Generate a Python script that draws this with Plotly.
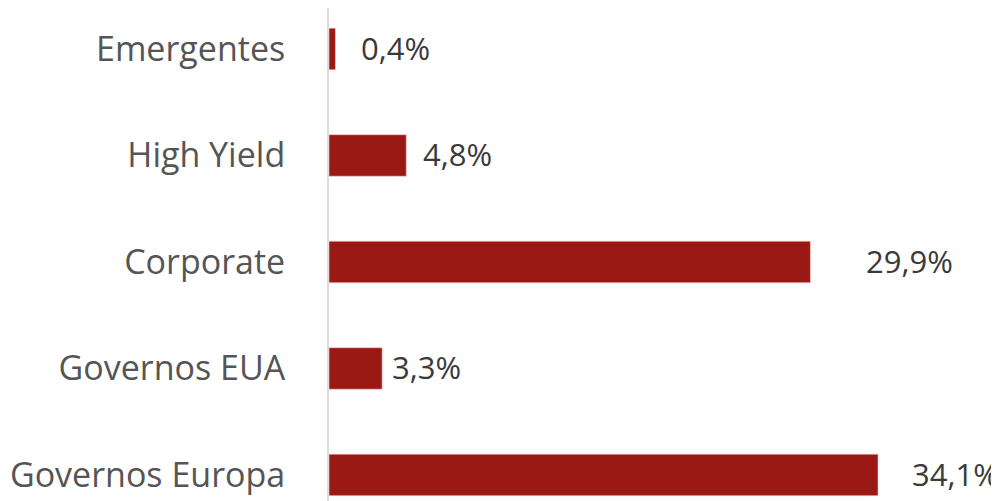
import plotly.graph_objects as go

categories = ["Governos Europa", "Governos EUA", "Corporate", "High Yield", "Emergentes"]
values = [34.1, 3.3, 29.9, 4.8, 0.4]
labels = ["34,1%", "3,3%", "29,9%", "4,8%", "0,4%"]
label_shift = [34, 10, 56, 17, 26]

BAR = "#9b1915"
FONT = "Open Sans"

fig = go.Figure(go.Bar(
    y=categories, x=values, orientation="h",
    marker=dict(color=BAR, line=dict(color="rgba(255,200,200,0.6)", width=1)),
    width=0.39, hoverinfo="skip",
))

for c, v, t, s in zip(categories, values, labels, label_shift):
    fig.add_annotation(x=v, y=c, text=t, showarrow=False, xanchor="left",
                       xshift=s - 2, yshift=1,
                       font=dict(family=FONT, size=31, color="#3a3a3a"))

fig.update_layout(
    width=999, height=501,
    margin=dict(l=321, r=0, t=0, b=0),
    plot_bgcolor="white", paper_bgcolor="white",
    showlegend=False,
    xaxis=dict(range=[0, 42.11], visible=False, fixedrange=True),
    yaxis=dict(range=[-0.320, 4.385], showgrid=False, zeroline=False,
               showline=True, linecolor="#dcdcdc", linewidth=2,
               ticks="", ticklabelstandoff=35,
               tickfont=dict(family=FONT, size=34, color="#555555")),
)

fig.write_html("out.html")
